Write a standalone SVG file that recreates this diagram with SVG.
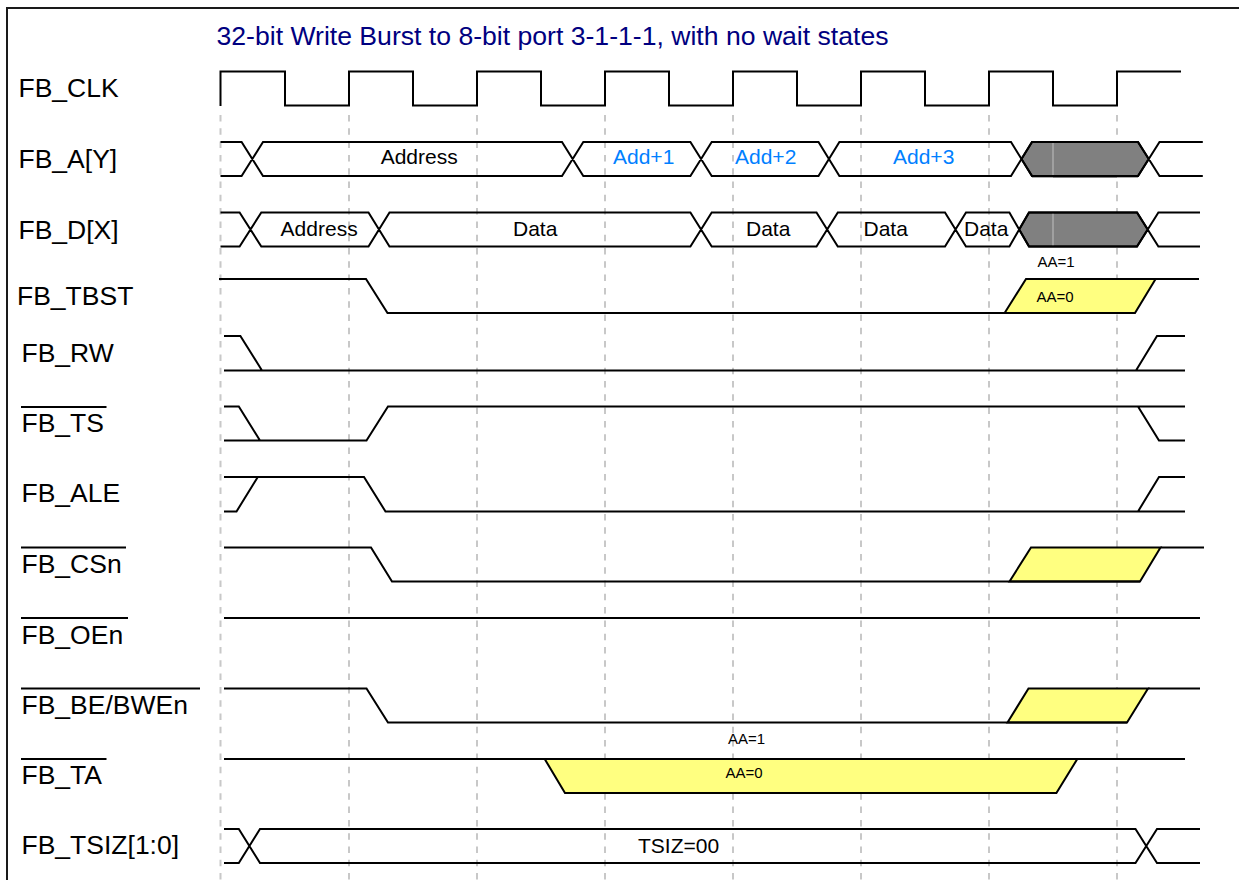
<svg xmlns="http://www.w3.org/2000/svg" width="1239" height="880" viewBox="0 0 1239 880">
<style>
text{font-family:"Liberation Sans",Arial,sans-serif;fill:#000}
.lb{font-size:26.500px}
.bl{font-size:21px}
.sm{font-size:15px}
.ad{font-size:21px;fill:#0080ff}
.tt{font-size:26.600px;fill:#000080}
.w{fill:none;stroke:#000;stroke-width:2;stroke-linejoin:miter}
.y{fill:#ffff80;stroke:#000;stroke-width:2}
.k{fill:#808080;stroke:#000;stroke-width:2}
.o{stroke:#000;stroke-width:2}
.g{stroke:#c8c8c8;stroke-width:2;stroke-dasharray:6.500 6.800}
</style>
<rect width="1239" height="880" fill="#fff"/>
<path id="frame" d="M7 880V8H1239" fill="none" stroke="#1a1a1a" stroke-width="2"/>
<g id="connectors">
<g id="grid">
<path class="g" d="M220.500 115V880M349 115V880M477 115V880M605 115V880M733 115V880M861 115V880M989 115V880M1117 115V880"/>
</g>
<path id="w-clk" class="w" d="M220.500 106V71.500H285V105.500H349V71.500H413V105.500H477V71.500H541V105.500H605V71.500H669V105.500H733V71.500H797V105.500H861V71.500H925V105.500H989V71.500H1053V105.500H1117V71.500H1181"/>
<g id="w-a">
<path fill="#aaa" d="M1032 146H1138V178H1032Z"/>
<path fill="#808080" d="M1053 146H1117V178H1053Z"/>
<path class="k" d="M1021.500 159L1032 142H1138L1148.700 159L1138 176H1032Z"/>
<path d="M1053 143V175" stroke="#c0c0c0" stroke-width="1"/>
<path class="w" d="M220.500 142H241.600L263 176H562L583.300 142H690.400L711.700 176H818.500L839.400 142H1011L1032 176H1138L1159.500 142H1202.800M220.500 176H241.600L263 142H562L583.300 176H690.400L711.700 142H818.500L839.400 176H1011L1032 142H1138L1159.500 176H1202.800"/>
</g>
<g id="w-d">
<path class="k" d="M1019.200 229.500L1029 212.500H1137L1147.700 229.500L1137 246.500H1029Z"/>
<path d="M1053 213.500V245.500" stroke="#c0c0c0" stroke-width="1"/>
<path class="w" d="M220.500 212.500H239.600L261.300 246.500H368.500L389.500 212.500H690.400L711.700 246.500H816.500L837.800 212.500H945L966 246.500H1009.400L1029 212.500H1137L1158.400 246.500H1200M220.500 246.500H239.600L261.300 212.500H368.500L389.500 246.500H690.400L711.700 212.500H816.500L837.800 246.500H945L966 212.500H1009.400L1029 246.500H1137L1158.400 212.500H1200"/>
</g>
<g id="w-tbst">
<path class="y" d="M1004.600 313L1026 279H1155.600L1135 313Z"/>
<path class="w" d="M219 279H366L387.500 313H1135M1155.600 279H1199"/>
</g>
<path id="w-rw" class="w" d="M224 336H240.400L262 370.500M224 370.500H1185M1136 370.500L1157 336H1185"/>
<path id="w-ts" class="w" d="M224 406.500H238.800L260 440.500M224 440.500H366.500L388 406.500H1185M1138 406.500L1159 440.500H1185"/>
<path id="w-ale" class="w" d="M224 511.500H236.500L257.800 477M224 477H364L385.500 511.500H1185M1138 511.500L1159 477H1185"/>
<g id="w-csn">
<path class="y" d="M1009.500 581.500L1031 547.500H1160.500L1140 581.500Z"/>
<path class="w" d="M224 547.500H371L392 581.500H1140M1160.500 547.500H1204"/>
</g>
<path id="w-oen" class="w" d="M224 618H1200"/>
<g id="w-be">
<path class="y" d="M1007.500 722.500L1028.500 688.500H1148L1127 722.500Z"/>
<path class="w" d="M224 688.500H366.500L388 722.500H1127M1148 688.500H1200"/>
</g>
<g id="w-ta">
<path class="y" d="M544.700 759L565 793H1056.400L1077.300 759Z"/>
<path class="w" d="M224 759H1185"/>
</g>
<path id="w-tsiz" class="w" d="M224 829H238.800L260 863H1135.500L1157 829H1200M224 863H238.800L260 829H1135.500L1157 863H1200"/>
</g>
<text id="title" class="tt" x="216.500" y="45">32-bit Write Burst to 8-bit port 3-1-1-1, with no wait states</text>
<g id="n-clk"><text class="lb" x="18.500" y="97">FB_CLK</text></g>
<g id="n-a"><text class="lb" x="18.500" y="168">FB_A[Y]</text>
<text class="bl" x="380.700" y="164">Address</text><text class="ad" x="613" y="164">Add+1</text><text class="ad" x="735" y="164">Add+2</text><text class="ad" x="893" y="164">Add+3</text></g>
<g id="n-d"><text class="lb" x="18.500" y="238.500">FB_D[X]</text>
<text class="bl" x="280.600" y="235.700">Address</text><text class="bl" x="513" y="235.700">Data</text><text class="bl" x="746" y="235.700">Data</text><text class="bl" x="863.500" y="235.700">Data</text><text class="bl" x="964" y="235.700">Data</text></g>
<g id="n-tbst"><text class="lb" x="17" y="305">FB_TBST</text><text class="sm" x="1037.500" y="267">AA=1</text><text class="sm" x="1036.600" y="301.700">AA=0</text></g>
<g id="n-rw"><text class="lb" x="21.500" y="362">FB_RW</text></g>
<g id="n-ts"><text class="lb" x="21.500" y="431.700">FB_TS</text><path class="o" d="M21 407H106.500"/></g>
<g id="n-ale"><text class="lb" x="21.500" y="502">FB_ALE</text></g>
<g id="n-csn"><text class="lb" x="21.500" y="572.700">FB_CSn</text><path class="o" d="M21 547.500H126"/></g>
<g id="n-oen"><text class="lb" x="21.500" y="644">FB_OEn</text><path class="o" d="M21 618H128"/></g>
<g id="n-be"><text class="lb" x="21.500" y="713.700">FB_BE/BWEn</text><path class="o" d="M21 688.500H200"/></g>
<g id="n-ta"><text class="lb" x="21.500" y="784">FB_TA</text><path class="o" d="M21 759H106.500"/><text class="sm" x="728" y="744">AA=1</text><text class="sm" x="725.500" y="777.700">AA=0</text></g>
<g id="n-tsiz"><text class="lb" x="21.500" y="854.300">FB_TSIZ[1:0]</text><text class="bl" x="638" y="852.700">TSIZ=00</text></g>
</svg>
